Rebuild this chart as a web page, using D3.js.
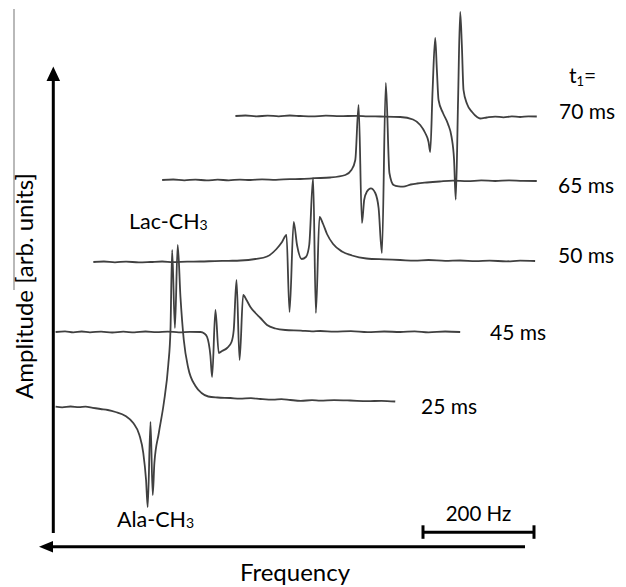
<!DOCTYPE html>
<html><head><meta charset="utf-8">
<script src="https://cdn.jsdelivr.net/npm/d3@7"></script>
<style>
body{margin:0;background:#fff}
svg{display:block}
text{font-family:Lato,"Open Sans",sans-serif;fill:#000}
</style>
</head><body>
<svg id="c" width="626" height="587"></svg>
<script>
// ---------- data ----------
const delays = ["25 ms", "45 ms", "50 ms", "65 ms", "70 ms"];
const stackOffsets = [140, 215, 285, 367, 431];           // amplitude offset of each trace (arb. units)
const peakLabels = ["Lac-CH", "Ala-CH"];                 // followed by subscript 3
const scaleBarHz = [0, 200];
const scaleBarLabel = "200 Hz";

// [frequency (Hz), amplitude (arb. units, relative to trace baseline)]
const spec25 = [[862,0.3],[850,-0.4],[835,0.5],[820,-0.2],[808,0.3],[795,-0.8],[781,-2],[768,-3],[754,-5],[736,-9],[722,-16],[711,-28],[704,-46],[699,-73],[696,-100],
  [691,-15],[687,-88],[684,-56],[676,-26],[667,4],[659,42],[655,77],[652,157],[647,79],[642,162],[637,110],[631,67],[623,39],[610,21],[599,14],[587,10.5],
  [570,9.5],[547,9],[530,8.3],[510,8.8],[493,8],[470,7.3],[455,7.9],[439,7],[420,6.2],[400,6.8],[385,6.3],[360,6.9],[331,6.5],[300,5.8],[275,6.2],[250,5.5]];
const spec45 = [[862,0],[845,0.6],[830,-0.4],[815,0.5],[800,-0.3],[780,0.4],[760,-0.5],[740,0.3],[720,-0.4],[700,0.5],[680,-0.2],[660,0.4],[640,-0.3],[620,0.2],[601,0],
  [594,-1.5],[589,-5],[583,-24],[580,-45],[574,22],[568,-21],[562,-19],[553,-16],[545,-10],[541,2],[536,52],[530.5,-28],[524,37],[518,32],[511,25],[502,19],
  [493,14],[481,7],[466,3.5],[448,2],[420,1.4],[400,0.6],[385,1],[360,0.3],[330,0.8],[300,-0.2],[270,0.5],[241,0],[215,0.6],[190,-0.4],[160,0.5],[133,0]];
const spec50 = [[794,0],[775,0.5],[755,-0.3],[735,0.4],[712,-0.4],[691,0],[670,0.5],[650,-0.2],[625,0.4],[601,0.5],[575,0.9],[550,1.2],[529,1.5],[502,3],
  [481,5.5],[464,13],[454,20],[446,27],[440.5,-50],[433,40],[427,17],[418.5,3],[411,5],[405,17],[398,84],[393,-51],[386.5,45],[380,38],[373,28],[362,18],
  [346,10.5],[328,6.5],[302,3.5],[270,2.6],[241,2],[215,1.3],[190,2],[160,1.1],[133,1.5],[105,0.8],[80,1.4],[50,0.6],[25,1.3],[-2,1]];
const spec65 = [[670,0],[650,0.5],[630,-0.3],[610,0.4],[590,-0.4],[570,0.3],[550,-0.3],[530,0.4],[511,0],[490,0.6],[465,0.2],[440,0.9],[421,1],[395,1.8],
  [367,2.5],[340,5],[329,10],[322,20],[316,75],[310,-43],[306,-20],[301,-11.5],[294,-8.3],[286,-13],[280,-28],[274,-73],[267,97],[260.5,7],[253,-5],
  [244,-6.4],[236,-6.7],[222,-4.5],[211,-3.5],[193,-2.5],[170,-1.5],[146,-0.7],[120,-1.2],[95,-0.4],[70,-1],[45,-0.3],[20,-0.9],[-5,-1]];
const spec70 = [[538,0],[520,0.5],[500,-0.4],[480,0.4],[460,-0.3],[440,0.5],[421,0],[400,-0.4],[375,0.3],[350,-0.2],[320,0.2],[300,-0.3],[277,-0.5],[241,-1],
  [218,-3.5],[205,-9],[196,-17],[190,-26],[187,-36],[182.7,26],[178,78],[175,46],[172,16],[164,3],[155,-8],[148.5,-21],[144,-44],[141,-83.5],[136.8,16],
  [133,104],[130,71],[127,26],[120.6,12],[111.6,4],[102.6,-1],[97,-2.5],[85,-1.5],[70,-0.6],[55,-1.3],[40,-0.4],[25,-1],[10,-0.3],[-5,-0.5]];
const spectra = [spec25, spec45, spec50, spec65, spec70];

// ---------- layout ----------
const svg = d3.select("#c");
const x = d3.scaleLinear().domain([0, 200]).range([534, 423]);   // frequency increases to the left
const y = d3.scaleLinear().domain([0, 100]).range([547, 447]);   // amplitude, upward

// stray frame line at far left
svg.append("line").attr("x1",14).attr("x2",14).attr("y1",9).attr("y2",290)
  .attr("stroke","#8a8a8a").attr("stroke-width",1.2);

// traces
const line = d3.line().x(d => x(d[0])).y(d => d.yv).curve(d3.curveMonotoneX);
spectra.forEach((s, i) => {
  const pts = s.map(d => Object.assign([d[0], d[1]], {yv: y(d[1] + stackOffsets[i])}));
  svg.append("path").attr("d", line(pts)).attr("fill","none")
    .attr("stroke","#404040").attr("stroke-width",1.8).attr("stroke-linejoin","round");
});

// axes (arrows)
const axisColor = "#000";
svg.append("line").attr("x1",53.3).attr("x2",53.3).attr("y1",533).attr("y2",79)
  .attr("stroke",axisColor).attr("stroke-width",3);
svg.append("path").attr("d","M53.3,66.5 L46.5,81 L60.1,81 Z").attr("fill",axisColor);
svg.append("line").attr("x1",525).attr("x2",52).attr("y1",546.7).attr("y2",546.7)
  .attr("stroke",axisColor).attr("stroke-width",3);
svg.append("path").attr("d","M39,546.7 L53,541 L53,552.4 Z").attr("fill",axisColor);

// scale bar
const sbY = 532.3;
svg.append("line").attr("x1",x(scaleBarHz[0])).attr("x2",x(scaleBarHz[1])).attr("y1",sbY).attr("y2",sbY)
  .attr("stroke",axisColor).attr("stroke-width",3);
scaleBarHz.forEach(h => svg.append("line").attr("x1",x(h)).attr("x2",x(h)).attr("y1",sbY-7).attr("y2",sbY+6.5)
  .attr("stroke",axisColor).attr("stroke-width",3));
svg.append("text").attr("x",(x(0)+x(200))/2).attr("y",520.5).attr("text-anchor","middle")
  .attr("font-size",20.5).text(scaleBarLabel);

// delay labels
const labelPos = [[421,413.5],[490,339.5],[558,262.5],[558,193],[559,119]];
delays.forEach((t, i) => {
  svg.append("text").attr("x",labelPos[i][0]).attr("y",labelPos[i][1]).attr("font-size",21).text(t);
});
const tl = svg.append("text").attr("x",569).attr("y",83).attr("font-size",21);
tl.append("tspan").text("t");
tl.append("tspan").attr("font-size",13).attr("dy",3).text("1");
tl.append("tspan").attr("dy",-3).text("=");

// peak labels
const peakPos = [[129,228.5],[117,527]];
peakLabels.forEach((t, i) => {
  const el = svg.append("text").attr("x",peakPos[i][0]).attr("y",peakPos[i][1]).attr("font-size",21.5);
  el.append("tspan").text(t);
  el.append("tspan").attr("font-size",14).attr("dy",1).text("3");
});

// axis titles
svg.append("text").attr("x",295).attr("y",581).attr("text-anchor","middle").attr("font-size",24).text("Frequency");
svg.append("text").attr("transform","translate(33,286) rotate(-90)").attr("text-anchor","middle")
  .attr("font-size",24).text("Amplitude [arb. units]");
</script>
</body></html>
